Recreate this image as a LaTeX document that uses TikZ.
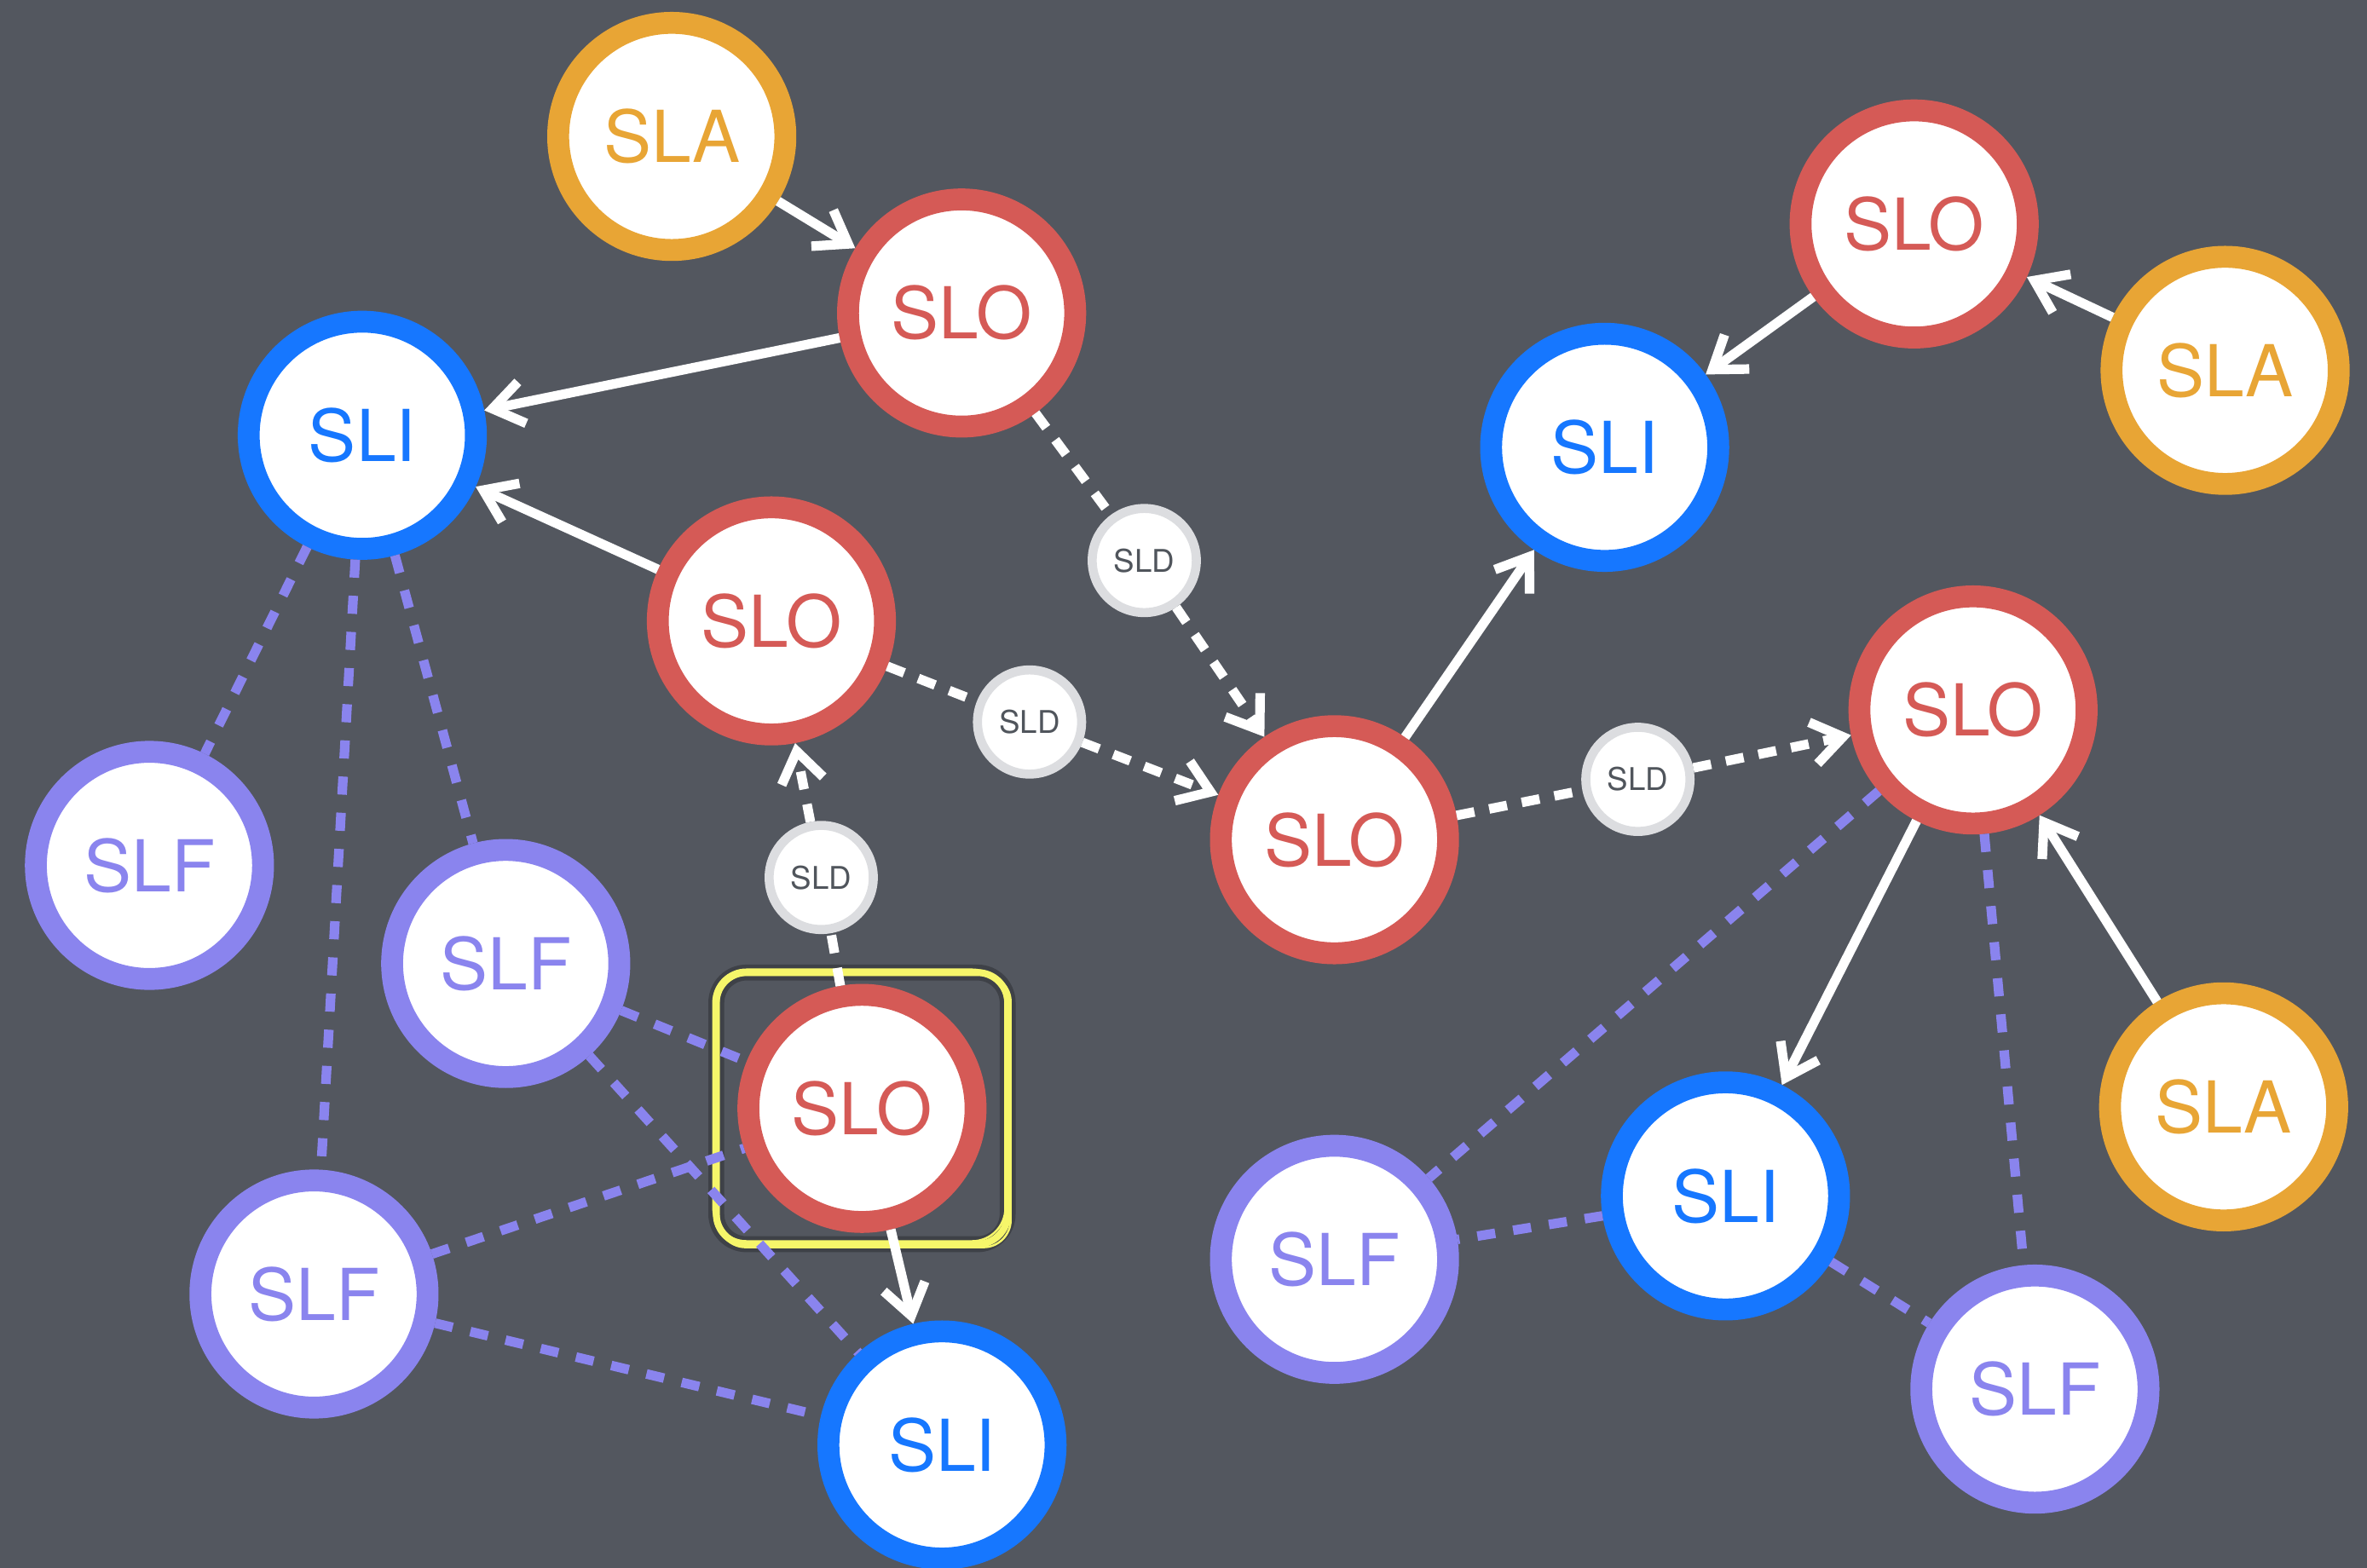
\documentclass[tikz,border=0pt]{standalone}
\usepackage{fontspec}
\setmainfont{TeX Gyre Heros}
\usetikzlibrary{arrows.meta}
\definecolor{bg}{HTML}{53575F}
\definecolor{cla}{HTML}{E8A535}
\definecolor{clo}{HTML}{D55A56}
\definecolor{cli}{HTML}{1677FF}
\definecolor{clf}{HTML}{8A84EE}
\definecolor{cldring}{HTML}{DCDDE0}
\definecolor{cldtext}{HTML}{50555C}
\definecolor{hilite}{HTML}{F6F66A}

\begin{document}
\begin{tikzpicture}
  \tikzstyle{big}=[circle,line width=1.45mm,minimum size=15.05mm,inner sep=0pt,fill=white,font=\fontsize{13.5}{16}\selectfont]
  \tikzstyle{nla}=[big,draw=cla,text=cla]
  \tikzstyle{nlo}=[big,draw=clo,text=clo]
  \tikzstyle{nli}=[big,draw=cli,text=cli]
  \tikzstyle{nlf}=[big,draw=clf,text=clf]
  \tikzstyle{nld}=[circle,draw=cldring,line width=0.6mm,minimum size=6.9mm,inner sep=0pt,fill=white,text=cldtext,font=\fontsize{5.9}{7}\selectfont]
  \tikzstyle{link}=[white,line width=1.8pt,-{Straight Barb[length=2mm,width=2.8mm]}]
  \tikzstyle{dlink}=[link,dash pattern=on 1.2mm off 1mm]
  \tikzstyle{dhalf}=[white,line width=1.8pt,dash pattern=on 1.2mm off 1mm]
  \tikzstyle{feed}=[clf,line width=1.8pt,dash pattern=on 1.2mm off 1.2mm]
  \useasboundingbox (0,0) rectangle (15.68,10.384);
  \fill[bg] (-0.2,-0.2) rectangle (15.88,10.58);
  % left group
  \node[nla] (slaA) at (4.45,9.48) {SLA};
  \node[nlo] (sloA) at (6.37,8.31) {SLO};
  \node[nli] (sliA) at (2.40,7.50) {SLI};
  \node[nlo] (sloB) at (5.11,6.27) {SLO};
  \node[nlo] (sloF) at (5.71,3.04) {SLO};
  \node[nli] (sliD) at (6.24,0.81) {SLI};
  \node[nlf] (slfC) at (0.99,4.65) {SLF};
  \node[nlf] (slfD) at (3.35,4.00) {SLF};
  \node[nlf] (slfE) at (2.08,1.81) {SLF};
  % middle and right group
  \node[nlo] (sloC) at (8.84,4.82) {SLO};
  \node[nlo] (sloD) at (12.68,8.90) {SLO};
  \node[nla] (slaB) at (14.74,7.93) {SLA};
  \node[nli] (sliB) at (10.63,7.42) {SLI};
  \node[nlo] (sloE) at (13.07,5.68) {SLO};
  \node[nla] (slaC) at (14.73,3.05) {SLA};
  \node[nli] (sliC) at (11.43,2.46) {SLI};
  \node[nlf] (slfA) at (8.84,2.04) {SLF};
  \node[nlf] (slfB) at (13.48,1.18) {SLF};
  % dependencies
  \node[nld] (sldA) at (7.58,6.67) {SLD};
  \node[nld] (sldB) at (6.82,5.60) {SLD};
  \node[nld] (sldC) at (5.44,4.57) {SLD};
  \node[nld] (sldD) at (10.85,5.22) {SLD};
  % highlight
  \draw[black,opacity=.25,line width=3pt,rounded corners=2mm] ([shift={(-0.965,-0.90)}]sloF.center) rectangle ([shift={(0.965,0.90)}]sloF.center);
  \draw[hilite,line width=1.3pt,rounded corners=2mm] ([shift={(-0.965,-0.90)}]sloF.center) rectangle ([shift={(0.965,0.90)}]sloF.center);
  \draw[hilite,line width=0.4pt,rounded corners=2.2mm] ([shift={(-0.985,-0.88)}]sloF.center) rectangle ([shift={(0.95,0.92)}]sloF.center);
  \draw[hilite,line width=0.4pt,rounded corners=1.8mm] ([shift={(-0.95,-0.92)}]sloF.center) rectangle ([shift={(0.985,0.885)}]sloF.center);
  % solid arrows
  \draw[link] (slaA) -- (sloA);
  \draw[link] (sloA) -- (sliA);
  \draw[link] (sloB) -- (sliA);
  \draw[link] (sloC) -- (sliB);
  \draw[link] (sloD) -- (sliB);
  \draw[link] (slaB) -- (sloD);
  \draw[link] (slaC) -- (sloE);
  \draw[link] (sloE) -- (sliC);
  \draw[link] (sloF) -- (sliD);
  % dashed arrows through SLD
  \draw[dhalf] (sloA) -- (sldA);
  \draw[dlink] (sldA) -- (sloC);
  \draw[dhalf] (sloB) -- (sldB);
  \draw[dlink] (sldB) -- (sloC);
  \draw[dhalf] (sloF) -- (sldC);
  \draw[dlink] (sldC) -- (sloB);
  \draw[dhalf] (sloC) -- (sldD);
  \draw[dlink] (sldD) -- (sloE);
  % purple links
  \draw[feed] (sliA) -- (slfC);
  \draw[feed] (sliA) -- (slfE);
  \draw[feed] (sliA) -- (slfD);
  \draw[feed] (slfD) -- (sloF);
  \draw[feed] (slfD) -- (sliD);
  \draw[feed] (slfE) -- (sloF);
  \draw[feed] (slfE) -- (sliD);
  \draw[feed] (sloE) -- (slfA);
  \draw[feed] (sloE) -- (slfB);
  \draw[feed] (sliC) -- (slfA);
  \draw[feed] (sliC) -- (slfB);
\end{tikzpicture}
\end{document}
